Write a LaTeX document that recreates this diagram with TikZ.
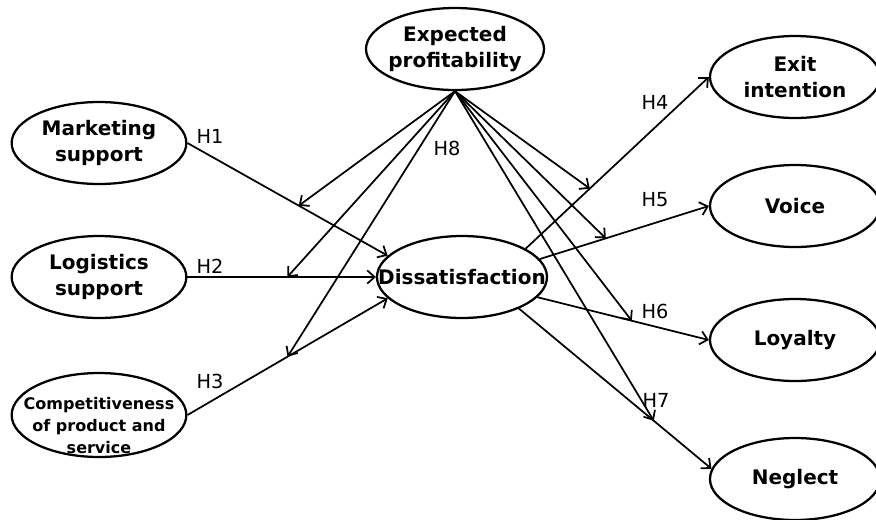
\documentclass[tikz,border=0pt]{standalone}
\usepackage{fontspec}
\setmainfont{DejaVu Sans}
\usetikzlibrary{shapes.geometric, arrows.meta}

\begin{document}
\begin{tikzpicture}[x=0.75pt, y=-0.75pt]
    \tikzstyle{construct} = [ellipse, draw, line width=1.7pt, minimum width=131pt, minimum height=61.5pt, inner xsep=-20pt, inner ysep=-8pt, align=center, font=\bfseries\fontsize{15}{20}\selectfont]
    \tikzstyle{link} = [line width=1.3pt, -{Straight Barb[length=5.5pt, width=10pt]}]
    \tikzstyle{hyp} = [font=\fontsize{14.5}{16}\selectfont]

    \useasboundingbox (0,0) rectangle (876,519);

    % Left column (antecedents)
    \node[construct] (mkt) at (99,143) {Marketing\\support};
    \node[construct] (log) at (99,277) {Logistics\\support};
    \node[construct, minimum height=63pt] (comp) at (99,415) {};
    \node[align=center, font=\bfseries\fontsize{12}{16.5}\selectfont] (compt) at (99,426) {Competitiveness\\of product and\\service};

    % Middle (moderator and mediator)
    \node[construct, minimum width=133.5pt] (exp) at (455,49) {Expected\\profitability};
    \node[construct, minimum width=127.5pt] (dis) at (462,277) {Dissatisfaction};

    % Right column (outcomes)
    \node[construct, minimum width=127.5pt] (exit) at (795,77) {Exit\\intention};
    \node[construct, minimum width=127.5pt] (voice) at (795,206) {Voice};
    \node[construct, minimum width=127.5pt] (loy) at (795,340) {Loyalty};
    \node[construct, minimum width=127.5pt] (neg) at (795,479) {Neglect};

    % Main paths
    \draw[link] (mkt.east) -- coordinate[pos=0.556] (m1) (dis.164);
    \draw[link] (log.east) -- coordinate[pos=0.53] (m2) (dis.west);
    \draw[link] (comp.east) -- coordinate[pos=0.5] (m3) (dis.196);
    \draw[link] (dis.24) -- coordinate[pos=0.35] (m4) (exit.west);
    \draw[link] (dis.13) -- coordinate[pos=0.39] (m5) (voice.west);
    \draw[link] (dis.345) -- coordinate[pos=0.55] (m6) (loy.west);
    \draw[link] (dis.331) -- coordinate[pos=0.70] (m7) (neg.173);

    % Moderating effects (H8)
    \foreach \i in {1,...,7}
        \draw[link] (exp.south) -- (m\i);

    % Hypothesis labels
    \node[hyp] (h1) at (210,136) {H1};
    \node[hyp] (h2) at (210,266) {H2};
    \node[hyp] (h3) at (210,381) {H3};
    \node[hyp] (h4) at (655,102) {H4};
    \node[hyp] (h5) at (655,200) {H5};
    \node[hyp] (h6) at (655,311) {H6};
    \node[hyp] (h7) at (656,400) {H7};
    \node[hyp] (h8) at (447,148) {H8};
\end{tikzpicture}
\end{document}
